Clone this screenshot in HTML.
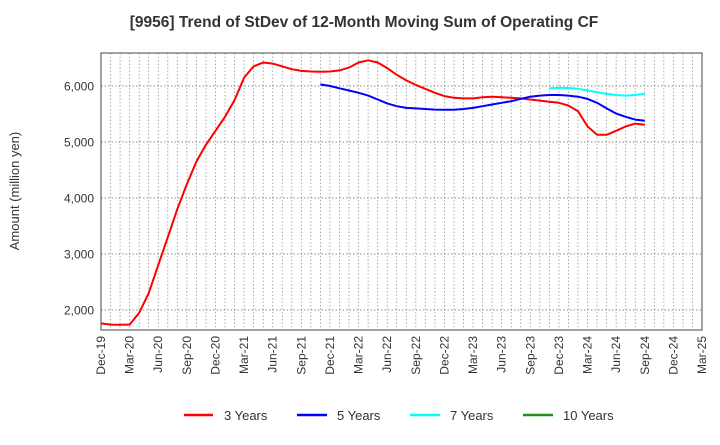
<!DOCTYPE html>
<html><head><meta charset="utf-8"><style>
body{margin:0;background:#fff;font-family:"Liberation Sans",Arial,sans-serif}
</style></head><body>
<svg id="chart" width="720" height="440" xmlns="http://www.w3.org/2000/svg" font-family="Liberation Sans, Arial, sans-serif">
<text x="364" y="27" text-anchor="middle" font-size="15.5" font-weight="bold" fill="#333">[9956]  Trend of StDev of 12-Month Moving Sum of Operating CF</text>
<text transform="translate(19,191) rotate(-90)" text-anchor="middle" font-size="13" fill="#333">Amount (million yen)</text>
<g id="grid"></g><g id="ticks"></g><g id="series"></g>
<rect x="101" y="53" width="601" height="277" fill="none" stroke="#444" stroke-width="1"/>
<g>
<g><line x1="184" y1="415" x2="213" y2="415" stroke="#ff0000" stroke-width="2.5"/><text x="224" y="420" font-size="13" fill="#333">3 Years</text></g>
<g><line x1="297" y1="415" x2="327" y2="415" stroke="#0000ff" stroke-width="2.5"/><text x="337" y="420" font-size="13" fill="#333">5 Years</text></g>
<g><line x1="410" y1="415" x2="440" y2="415" stroke="#00ffff" stroke-width="2.5"/><text x="450" y="420" font-size="13" fill="#333">7 Years</text></g>
<g><line x1="523" y1="415" x2="553" y2="415" stroke="#228b22" stroke-width="2.5"/><text x="563" y="420" font-size="13" fill="#333">10 Years</text></g>
</g>
</svg>
<script>
const xTickLabels=["Dec-19","Mar-20","Jun-20","Sep-20","Dec-20","Mar-21","Jun-21","Sep-21","Dec-21","Mar-22","Jun-22","Sep-22","Dec-22","Mar-23","Jun-23","Sep-23","Dec-23","Mar-24","Jun-24","Sep-24","Dec-24","Mar-25"];
const yTicks=[2000,3000,4000,5000,6000];
const series3=[1760,1740,1735,1740,1950,2300,2800,3300,3800,4250,4650,4950,5200,5450,5750,6150,6350,6420,6400,6350,6300,6270,6260,6255,6260,6280,6330,6420,6460,6420,6320,6200,6100,6020,5950,5880,5820,5790,5780,5780,5800,5810,5800,5790,5780,5760,5740,5720,5700,5650,5550,5280,5130,5130,5200,5280,5330,5310];
const series5=[6030,6000,5960,5920,5880,5830,5760,5690,5640,5610,5600,5590,5580,5575,5575,5590,5610,5640,5670,5700,5730,5770,5810,5830,5840,5840,5830,5810,5770,5700,5600,5510,5450,5400,5380];
const series7=[5960,5970,5965,5950,5920,5890,5860,5840,5830,5840,5860];
const start5=23, start7=47;
const X0=101,X1=702,Y0=53,Y1=330,MONTHS=63,VMIN=1643,VMAX=6590;
const xs=i=>X0+(X1-X0)*i/MONTHS;
const ys=v=>Y1-(v-VMIN)/(VMAX-VMIN)*(Y1-Y0);
const NS="http://www.w3.org/2000/svg";
const grid=document.getElementById('grid'),ticks=document.getElementById('ticks'),ser=document.getElementById('series');
function mk(tag,attrs,parent){const e=document.createElementNS(NS,tag);for(const k in attrs)e.setAttribute(k,attrs[k]);parent.appendChild(e);return e;}
for(let m=1;m<MONTHS;m++){
  const l=mk('line',{x1:xs(m),x2:xs(m),y1:Y0,y2:Y1,stroke:'#999','stroke-width':0.8,'stroke-dasharray':'1.5,2'},grid);
  
  
}
yTicks.forEach(v=>{
  const l=mk('line',{x1:X0,x2:X1,y1:ys(v),y2:ys(v),stroke:'#666','stroke-width':0.8,'stroke-dasharray':'1.5,2'},grid);
  
  
  const t=mk('text',{x:X0-7,y:ys(v)+4.5,'text-anchor':'end','font-size':12,fill:'#333'},ticks);
  t.textContent=v.toLocaleString('en-US');
  
  
});
xTickLabels.forEach((s,i)=>{
  const x=xs(i*3);
  const t=mk('text',{transform:`translate(${x+4},${Y1+6}) rotate(-90)`,'text-anchor':'end','font-size':12,fill:'#333'},ticks);
  t.textContent=s;
  
  
});
function line(data,start,color,name){
  const pts=data.map((v,i)=>xs(start+i).toFixed(1)+','+ys(v).toFixed(1)).join(' ');
  const p=mk('polyline',{points:pts,fill:'none',stroke:color,'stroke-width':2,'stroke-linejoin':'round'},ser);
  
  
}
line(series3,0,'#ff0000','line-3-years');
line(series5,start5,'#0000ff','line-5-years');
line(series7,start7,'#00ffff','line-7-years');
</script>
</body></html>
